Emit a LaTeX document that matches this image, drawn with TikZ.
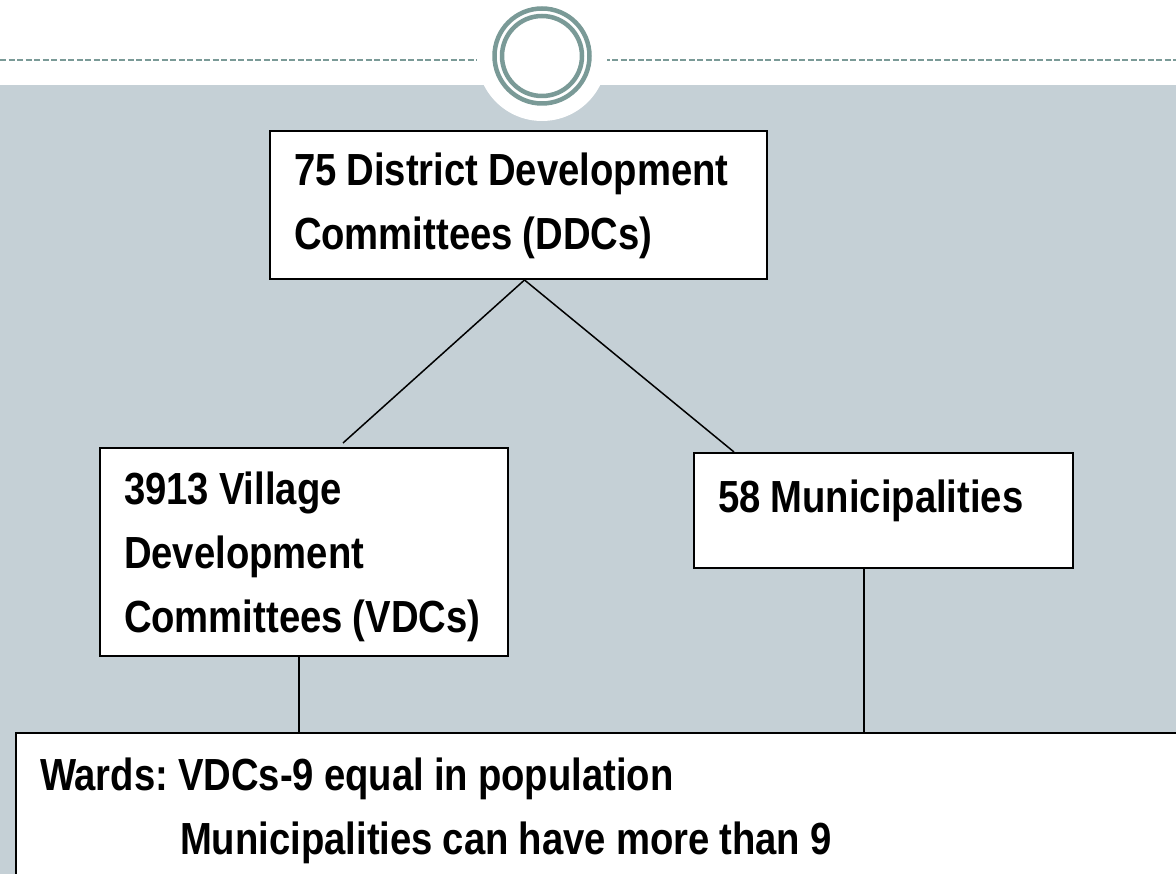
\documentclass[tikz,border=0pt]{standalone}
\usepackage{fontspec}
\newfontfamily\orgfont{Liberation Sans}[FakeStretch=0.85]
\usepackage{xcolor}
\usepackage{tikz}

\definecolor{bandgrey}{RGB}{197,208,214}
\definecolor{ringteal}{RGB}{122,154,151}
% tight word gaps for the box lettering
\newcommand\tightgaps{\spaceskip=10pt\relax\xspaceskip=10pt\relax}

\begin{document}
\begin{tikzpicture}[x=1pt, y=-1pt,
    every node/.style={font=\orgfont\bfseries\fontsize{45}{64}\selectfont},
    orgbox/.style={draw, line width=2pt, fill=white, anchor=north west,
                   align=left, inner xsep=24pt, inner ysep=0pt,
                   execute at begin node=\tightgaps}]
  % Slide background: band, dashed rule and ring badge
  \useasboundingbox (0,0) rectangle (1176,874);
  \clip (0,0) rectangle (1176,874);
  \fill[bandgrey] (0,85) rectangle (1176,874);
  \draw[ringteal, line width=2pt, dash pattern=on 6pt off 2.5pt] (0,60) -- (1176,60);
  \fill[white] (542,56) circle[radius=65];
  \draw[ringteal, line width=4.5pt] (542,56) circle[radius=47.5];
  \draw[ringteal, line width=4.5pt] (542,56) circle[radius=40];

  % Local bodies hierarchy
  \node[orgbox, text width=449pt, text height=55pt, text depth=93pt]
        (ddc) at (269,130) {75 District Development\\Committees (DDCs)};
  \node[orgbox, text width=360pt, text height=56pt, text depth=152pt]
        (vdc) at (99,447) {3913 Village\\Development\\Committees (VDCs)};
  \node[orgbox, text width=331pt, text height=59pt, text depth=56pt]
        (muni) at (693,452) {58 Municipalities};
  \node[orgbox, text width=1200pt, text height=57pt, text depth=160pt]
        (wards) at (15,732) {Wards: VDCs-9 equal in population\\
        \hspace*{140pt}Municipalities can have more than 9};

  \coordinate (vdctop) at (343,443);
  \draw[line width=1.5pt] ([xshift=6pt]ddc.south) -- (vdctop);
  \draw[line width=1.5pt] ([xshift=6pt]ddc.south) -- ([xshift=41pt]muni.north west);
  \draw[line width=1.5pt] ([xshift=-5pt]vdc.south) -- ([xshift=-5pt]vdc.south |- wards.north);
  \draw[line width=1.5pt] ([xshift=-19.5pt]muni.south) -- ([xshift=-19.5pt]muni.south |- wards.north);
\end{tikzpicture}
\end{document}
